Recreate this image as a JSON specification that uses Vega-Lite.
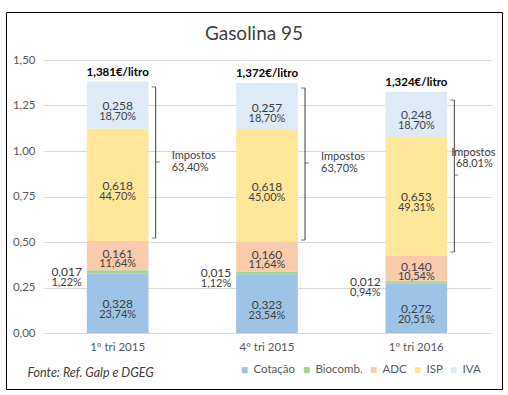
{
  "$schema": "https://vega.github.io/schema/vega-lite/v6.json",
  "width": 496,
  "height": 377,
  "autosize": {"type": "none"},
  "padding": {"left": 6, "top": 12, "right": 6, "bottom": 6},
  "background": "white",
  "title": {"text": "Gasolina 95", "font": "Lato", "fontSize": 19, "fontWeight": "normal", "color": "#404040", "anchor": "middle", "frame": "group", "offset": 0, "dy": 32},
  "datasets": {
    "parts": [
      {"period": "1º tri 2015", "comp": "Cotação", "k": 1, "value": 0.328, "pct": 0.2374},
      {"period": "1º tri 2015", "comp": "Biocomb.", "k": 2, "value": 0.017, "pct": 0.0122},
      {"period": "1º tri 2015", "comp": "ADC", "k": 3, "value": 0.161, "pct": 0.1164},
      {"period": "1º tri 2015", "comp": "ISP", "k": 4, "value": 0.618, "pct": 0.4470},
      {"period": "1º tri 2015", "comp": "IVA", "k": 5, "value": 0.258, "pct": 0.1870},
      {"period": "4º tri 2015", "comp": "Cotação", "k": 1, "value": 0.323, "pct": 0.2354},
      {"period": "4º tri 2015", "comp": "Biocomb.", "k": 2, "value": 0.015, "pct": 0.0112},
      {"period": "4º tri 2015", "comp": "ADC", "k": 3, "value": 0.160, "pct": 0.1164},
      {"period": "4º tri 2015", "comp": "ISP", "k": 4, "value": 0.618, "pct": 0.4500},
      {"period": "4º tri 2015", "comp": "IVA", "k": 5, "value": 0.257, "pct": 0.1870},
      {"period": "1º tri 2016", "comp": "Cotação", "k": 1, "value": 0.272, "pct": 0.2051},
      {"period": "1º tri 2016", "comp": "Biocomb.", "k": 2, "value": 0.012, "pct": 0.0094},
      {"period": "1º tri 2016", "comp": "ADC", "k": 3, "value": 0.140, "pct": 0.1054},
      {"period": "1º tri 2016", "comp": "ISP", "k": 4, "value": 0.653, "pct": 0.4931},
      {"period": "1º tri 2016", "comp": "IVA", "k": 5, "value": 0.248, "pct": 0.1870}
    ],
    "totals": [
      {"period": "1º tri 2015", "total": 1.381, "taxPct": 0.634, "bLow": 0.522, "bHigh": 1.352, "bMid": 0.94},
      {"period": "4º tri 2015", "total": 1.372, "taxPct": 0.637, "bLow": 0.511, "bHigh": 1.346, "bMid": 0.934},
      {"period": "1º tri 2016", "total": 1.324, "taxPct": 0.6801, "bLow": 0.445, "bHigh": 1.280, "bMid": 0.868}
    ]
  },
  "encoding": {
    "x": {
      "field": "period", "type": "nominal", "sort": null,
      "scale": {"range": [37, 485], "paddingInner": 0.587, "paddingOuter": 0.2935},
      "axis": {
        "offset": -56, "domain": false, "ticks": false, "labelAngle": 0, "labelPadding": 8,
        "labelFont": "Lato", "labelFontSize": 11.5, "labelColor": "#595959",
        "title": "Fonte: Ref. Galp e DGEG", "titleFont": "Lato", "titleFontSize": 12.5, "titleFontStyle": "italic",
        "titleFontWeight": "normal", "titleColor": "#404040", "titleX": 21, "titleY": 39, "titleAlign": "left", "titleBaseline": "middle", "titleAnchor": "start"
      }
    }
  },
  "layer": [
    {
      "data": {"name": "parts"},
      "transform": [
        {"stack": "value", "groupby": ["period"], "sort": [{"field": "k"}], "as": ["y0", "y1"]},
        {"calculate": "(datum.y0 + datum.y1) / 2", "as": "ym"}
      ],
      "layer": [
        {
          "mark": {"type": "bar"},
          "encoding": {
            "y": {
              "field": "y0", "type": "quantitative",
              "scale": {"domain": [0, 1.5], "range": [321, 48], "nice": false, "zero": true},
              "axis": {
                "offset": -37, "values": [0, 0.25, 0.5, 0.75, 1, 1.25, 1.5], "format": ".2f", "domain": false, "ticks": false,
                "labelPadding": 8, "labelFont": "Lato", "labelFontSize": 11.5, "labelColor": "#595959",
                "gridColor": "#d9d9d9", "gridWidth": 1, "title": null
              }
            },
            "y2": {"field": "y1"},
            "color": {
              "field": "comp", "type": "nominal",
              "scale": {"domain": ["Cotação", "Biocomb.", "ADC", "ISP", "IVA"], "range": ["#9dc3e6", "#a9d18e", "#f8cbad", "#ffe699", "#deebf7"]},
              "legend": {
                "orient": "none", "direction": "horizontal", "legendX": 233, "legendY": 352, "title": null,
                "symbolType": "square", "symbolSize": 36, "symbolStrokeWidth": 0, "labelOffset": 3,
                "labelFont": "Lato", "labelFontSize": 11.5, "labelColor": "#595959", "columnPadding": 5
              }
            }
          }
        },
        {
          "transform": [{"filter": "datum.comp !== 'Biocomb.' && datum.comp !== 'ADC'"}],
          "mark": {"type": "text", "font": "Lato", "fontSize": 12, "color": "#404040", "baseline": "middle", "yOffset": 1},
          "encoding": {"y": {"field": "ym", "type": "quantitative"}, "text": {"field": "value", "format": ".3f"}}
        },
        {
          "transform": [{"filter": "datum.comp === 'ADC'"}],
          "mark": {"type": "text", "font": "Lato", "fontSize": 12, "color": "#404040", "baseline": "middle", "yOffset": -2},
          "encoding": {"y": {"field": "ym", "type": "quantitative"}, "text": {"field": "value", "format": ".3f"}}
        },
        {
          "transform": [{"filter": "datum.comp !== 'Biocomb.' && datum.comp !== 'ADC'"}],
          "mark": {"type": "text", "font": "Lato", "fontSize": 11, "color": "#404040", "baseline": "middle", "yOffset": 12},
          "encoding": {"y": {"field": "ym", "type": "quantitative"}, "text": {"field": "pct", "format": ".2%"}}
        },
        {
          "transform": [{"filter": "datum.comp === 'ADC'"}],
          "mark": {"type": "text", "font": "Lato", "fontSize": 11, "color": "#404040", "baseline": "middle", "yOffset": 8},
          "encoding": {"y": {"field": "ym", "type": "quantitative"}, "text": {"field": "pct", "format": ".2%"}}
        },
        {
          "transform": [{"filter": "datum.comp === 'Biocomb.'"}],
          "mark": {"type": "text", "font": "Lato", "fontSize": 12, "color": "#404040", "baseline": "middle", "xOffset": -51},
          "encoding": {"y": {"field": "ym", "type": "quantitative"}, "text": {"field": "value", "format": ".3f"}}
        },
        {
          "transform": [{"filter": "datum.comp === 'Biocomb.'"}],
          "mark": {"type": "text", "font": "Lato", "fontSize": 11, "color": "#404040", "baseline": "middle", "xOffset": -51, "yOffset": 11},
          "encoding": {"y": {"field": "ym", "type": "quantitative"}, "text": {"field": "pct", "format": ".2%"}}
        }
      ]
    },
    {
      "data": {"name": "totals"},
      "layer": [
        {
          "mark": {"type": "text", "font": "Lato", "fontSize": 11.5, "fontWeight": "bold", "color": "#000000", "baseline": "middle", "yOffset": -9},
          "encoding": {"y": {"field": "total", "type": "quantitative"}, "text": {"field": "total", "format": "$.3f"}}
        },
        {
          "mark": {"type": "rule", "color": "#404040", "strokeWidth": 1, "xOffset": 38},
          "encoding": {"y": {"field": "bLow", "type": "quantitative"}, "y2": {"field": "bHigh"}}
        },
        {
          "mark": {"type": "tick", "color": "#404040", "thickness": 1, "size": 4, "xOffset": 36},
          "encoding": {"y": {"field": "bLow", "type": "quantitative"}}
        },
        {
          "mark": {"type": "tick", "color": "#404040", "thickness": 1, "size": 4, "xOffset": 36},
          "encoding": {"y": {"field": "bHigh", "type": "quantitative"}}
        },
        {
          "mark": {"type": "tick", "color": "#404040", "thickness": 1, "size": 4, "xOffset": 40},
          "encoding": {"y": {"field": "bMid", "type": "quantitative"}}
        },
        {
          "transform": [{"filter": "datum.period !== '1º tri 2016'"}],
          "mark": {"type": "text", "font": "Lato", "fontSize": 11, "color": "#404040", "baseline": "middle", "align": "left", "xOffset": 54, "yOffset": -6},
          "encoding": {"y": {"field": "bMid", "type": "quantitative"}, "text": {"value": "Impostos"}}
        },
        {
          "transform": [{"filter": "datum.period !== '1º tri 2016'"}],
          "mark": {"type": "text", "font": "Lato", "fontSize": 11, "color": "#404040", "baseline": "middle", "align": "left", "xOffset": 54, "yOffset": 6},
          "encoding": {"y": {"field": "bMid", "type": "quantitative"}, "text": {"field": "taxPct", "format": ".2%"}}
        },
        {
          "transform": [{"filter": "datum.period === '1º tri 2016'"}],
          "mark": {"type": "text", "font": "Lato", "fontSize": 11, "color": "#404040", "baseline": "middle", "align": "center", "xOffset": 57, "yOffset": -22},
          "encoding": {"y": {"field": "bMid", "type": "quantitative"}, "text": {"value": "Impostos"}}
        },
        {
          "transform": [{"filter": "datum.period === '1º tri 2016'"}],
          "mark": {"type": "text", "font": "Lato", "fontSize": 11, "color": "#404040", "baseline": "middle", "align": "center", "xOffset": 58, "yOffset": -11},
          "encoding": {"y": {"field": "bMid", "type": "quantitative"}, "text": {"field": "taxPct", "format": ".2%"}}
        }
      ]
    }
  ],
  "config": {
    "locale": {"number": {"decimal": ",", "thousands": ".", "grouping": [3], "currency": ["", "€/litro"]}},
    "view": {"stroke": "#000000", "strokeWidth": 1},
    "font": "Lato"
  }
}
